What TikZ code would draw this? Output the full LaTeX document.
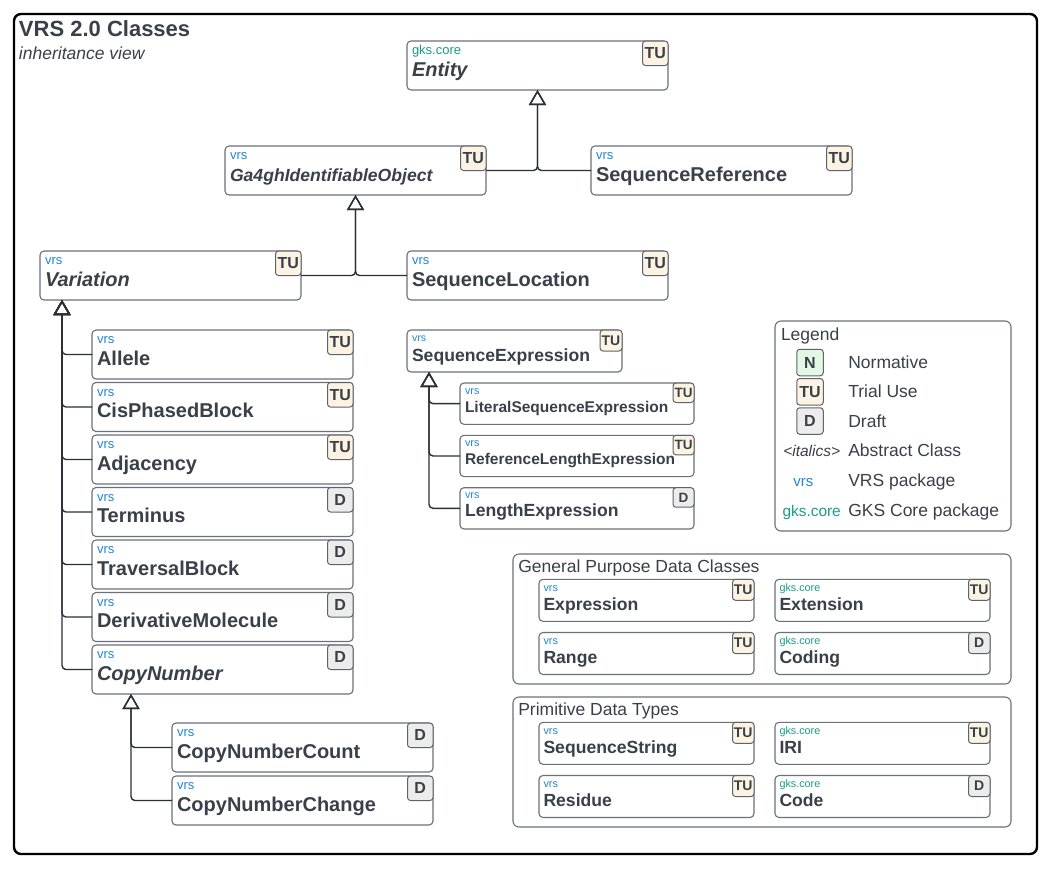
\documentclass[tikz,border=0pt]{standalone}
\usepackage{fontspec}
\setmainfont{Liberation Sans}
\usetikzlibrary{arrows.meta,calc}

\definecolor{ink}{HTML}{3A4049}
\definecolor{framegrey}{HTML}{6B7079}
\definecolor{badgegrey}{HTML}{5E636B}
\definecolor{linkcol}{HTML}{2B2F36}
\definecolor{vrscol}{HTML}{2285D6}
\definecolor{gkscol}{HTML}{1A9C8A}
\definecolor{tufill}{HTML}{FDF3E2}
\definecolor{dfill}{HTML}{ECECEC}
\definecolor{nfill}{HTML}{E2F7E4}

\newcommand\fsz[1]{\fontsize{#1}{#1}\selectfont}

% package labels and status badges
\def\vrstxt{vrs}
\def\gkstxt{gks.core}
\def\stattu{TU}
\def\statd{D}
\def\statn{N}

% size sets: width, height, text inset, package baseline, name baseline,
% badge width/height, package/name/badge fonts
\def\lgW{261}\def\lgH{49}\def\lgX{5}\def\lgPk{13.5}\def\lgNm{35}\def\lgBw{25.5}\def\lgBh{24.5}
\def\lgPf{\fsz{13}}\def\lgNf{\fsz{20}\bfseries}\def\lgBf{\fsz{16}\bfseries}
\def\mdW{215}\def\mdH{42}\def\mdX{5}\def\mdPk{11.7}\def\mdNm{31}\def\mdBw{22}\def\mdBh{21}
\def\mdPf{\fsz{10.5}}\def\mdNf{\fsz{17.6}\bfseries}\def\mdBf{\fsz{14}\bfseries}
\def\smW{234}\def\smH{41.3}\def\smX{5}\def\smPk{11}\def\smNm{29}\def\smBw{21}\def\smBh{19.5}
\def\smPf{\fsz{10.8}}\def\smNf{\fsz{15.5}\bfseries}\def\smBf{\fsz{13.5}\bfseries}
\def\gpW{215}\def\gpH{42}\def\gpX{4.5}\def\gpPk{12.3}\def\gpNm{31}\def\gpBw{21.5}\def\gpBh{21}
\def\gpPf{\fsz{10.8}}\def\gpNf{\fsz{17.6}\bfseries}\def\gpBf{\fsz{14}\bfseries}

\tikzset{
  classframe/.style={draw=framegrey, line width=1.1pt, rounded corners=4pt, fill=white,
    inner sep=0pt, outer sep=0pt},
  groupframe/.style={draw=framegrey, line width=1.1pt, rounded corners=6pt, fill=white},
  plain/.style={inner sep=0pt, outer sep=0pt, text=ink},
  badge/.style={draw=badgegrey, line width=1pt, rounded corners=3pt, inner sep=0pt,
    outer sep=0pt, text=ink},
  tu/.style={fill=tufill},
  d/.style={fill=dfill},
  n/.style={fill=nfill},
  inherit/.style={draw=linkcol, line width=1.4pt, rounded corners=4pt,
    -{Triangle[open, length=15pt, width=17pt]}},
}

% #1 node name, #2 north-west corner, #3 size set, #4 package, #5 class name, #6 status
\newcommand\umlclass[6]{%
  \node[classframe, minimum width=\csname #3W\endcsname pt,
        minimum height=\csname #3H\endcsname pt, anchor=north west] (#1) at (#2) {};
  \node[badge, #6, minimum width=\csname #3Bw\endcsname pt,
        minimum height=\csname #3Bh\endcsname pt, anchor=north east,
        font=\csname #3Bf\endcsname] (#1-status) at (#1.north east) {\csname stat#6\endcsname};
  \node[plain, text=#4col, anchor=base west, font=\csname #3Pf\endcsname] (#1-pkg)
    at ($(#1.north west)+(\csname #3X\endcsname,\csname #3Pk\endcsname)$) {\csname #4txt\endcsname};
  \node[plain, anchor=base west, font=\csname #3Nf\endcsname] (#1-name)
    at ($(#1.north west)+(\csname #3X\endcsname,\csname #3Nm\endcsname)$) {#5};
}

\begin{document}
\begin{tikzpicture}[x=1pt, y=-1pt]
\fill[white] (0,0) rectangle (1052,871);
\useasboundingbox (0,0) rectangle (1052,871);

% outer frame and heading
\draw[line width=2.4pt, rounded corners=7pt] (14,14) rectangle (1037,854);
\node[plain, anchor=base west, font=\fsz{22}\bfseries] (title) at (19,36) {VRS 2.0 Classes};
\node[plain, anchor=base west, font=\fsz{17.5}\itshape] (subtitle) at (19,59) {inheritance view};

% upper hierarchy
\umlclass{entity}{407,41}{lg}{gks}{\itshape Entity}{tu}
\umlclass{ga4gh}{225,146}{lg}{vrs}{\fsz{17.6}\itshape Ga4ghIdentifiableObject}{tu}
\umlclass{seqref}{591,146}{lg}{vrs}{SequenceReference}{tu}
\umlclass{variation}{40,251}{lg}{vrs}{\itshape Variation}{tu}
\umlclass{seqloc}{407,251}{lg}{vrs}{SequenceLocation}{tu}

% variation subclasses
\umlclass{allele}{92,330}{lg}{vrs}{Allele}{tu}
\umlclass{cisphased}{92,382.5}{lg}{vrs}{CisPhasedBlock}{tu}
\umlclass{adjacency}{92,435}{lg}{vrs}{Adjacency}{tu}
\umlclass{terminus}{92,487.5}{lg}{vrs}{Terminus}{d}
\umlclass{traversal}{92,540}{lg}{vrs}{TraversalBlock}{d}
\umlclass{derivative}{92,592.5}{lg}{vrs}{DerivativeMolecule}{d}
\umlclass{copynumber}{92,645}{lg}{vrs}{\itshape CopyNumber}{d}
\umlclass{cncount}{172,723}{lg}{vrs}{CopyNumberCount}{d}
\umlclass{cnchange}{172,776}{lg}{vrs}{CopyNumberChange}{d}

% sequence expressions
\umlclass{seqexpr}{407,330}{md}{vrs}{SequenceExpression}{tu}
\umlclass{literal}{460,383}{sm}{vrs}{LiteralSequenceExpression}{tu}
\umlclass{reflen}{460,435.3}{sm}{vrs}{ReferenceLengthExpression}{tu}
\umlclass{lenexpr}{460,487.7}{sm}{vrs}{\fsz{17.6}LengthExpression}{d}

% inheritance links
\draw[inherit] (ga4gh.east) -| (entity.south);
\draw[inherit] (seqref.west) -| (entity.south);
\draw[inherit] (variation.east) -| (ga4gh.south);
\draw[inherit] (seqloc.west) -| (ga4gh.south);
\coordinate (variation-tip) at ($(variation.south west)+(22,0)$);
\foreach \child in {allele,cisphased,adjacency,terminus,traversal,derivative,copynumber}
  \draw[inherit] (\child.west) -| (variation-tip);
\coordinate (copynumber-tip) at ($(copynumber.south west)+(39,0)$);
\foreach \child in {cncount,cnchange}
  \draw[inherit] (\child.west) -| (copynumber-tip);
\coordinate (seqexpr-tip) at ($(seqexpr.south west)+(22,0)$);
\foreach \child in {literal,reflen,lenexpr}
  \draw[inherit] (\child.west) -| (seqexpr-tip);

% legend
\node[groupframe, inner sep=0pt, outer sep=0pt, minimum width=236pt, minimum height=210pt,
      anchor=north west] (legend) at (775,321) {};
\node[plain, anchor=base west, font=\fsz{17.5}] (legend-title) at (781,340.7) {Legend};
\node[badge, n, minimum width=26.5pt, minimum height=26.5pt, font=\fsz{16}\bfseries] (key-n) at (810,362.5) {N};
\node[badge, tu, minimum width=26.5pt, minimum height=26.5pt, font=\fsz{16}\bfseries] (key-tu) at (810,391.8) {TU};
\node[badge, d, minimum width=26.5pt, minimum height=26.5pt, font=\fsz{16}\bfseries] (key-d) at (810,421) {D};
\node[plain, anchor=base, font=\fsz{15.5}\itshape] (key-abs) at (811.7,456.7) {<italics>};
\node[plain, anchor=base, text=vrscol, font=\fsz{15}] (key-vrs) at (803.3,486.7) {vrs};
\node[plain, anchor=base, text=gkscol, font=\fsz{15.4}] (key-gks) at (811.7,516.7) {gks.core};
\foreach \lbl/\yy in {Normative/368.3, Trial Use/397.7, Draft/427.3, Abstract Class/456.7,
                      VRS package/486.7, GKS Core package/516.7}
  \node[plain, anchor=base west, font=\fsz{17.5}] at (848.3,\yy) {\lbl};

% general purpose data classes
\node[groupframe, inner sep=0pt, outer sep=0pt, minimum width=498pt, minimum height=130pt,
      anchor=north west] (general) at (513,554) {};
\node[plain, anchor=base west, font=\fsz{17.5}] (general-title) at (518.3,572.7) {General Purpose Data Classes};
\umlclass{expression}{539,579.3}{gp}{vrs}{Expression}{tu}
\umlclass{extension}{775,579.3}{gp}{gks}{Extension}{tu}
\umlclass{range}{539,632.5}{gp}{vrs}{Range}{tu}
\umlclass{coding}{775,632.5}{gp}{gks}{Coding}{d}

% primitive data types
\node[groupframe, inner sep=0pt, outer sep=0pt, minimum width=498pt, minimum height=130pt,
      anchor=north west] (primitive) at (513,697) {};
\node[plain, anchor=base west, font=\fsz{17.5}] (primitive-title) at (518.3,715.7) {Primitive Data Types};
\umlclass{seqstring}{539,722.3}{gp}{vrs}{SequenceString}{tu}
\umlclass{iri}{775,722.3}{gp}{gks}{IRI}{tu}
\umlclass{residue}{539,775.5}{gp}{vrs}{Residue}{tu}
\umlclass{code}{775,775.5}{gp}{gks}{Code}{d}
\end{tikzpicture}
\end{document}
